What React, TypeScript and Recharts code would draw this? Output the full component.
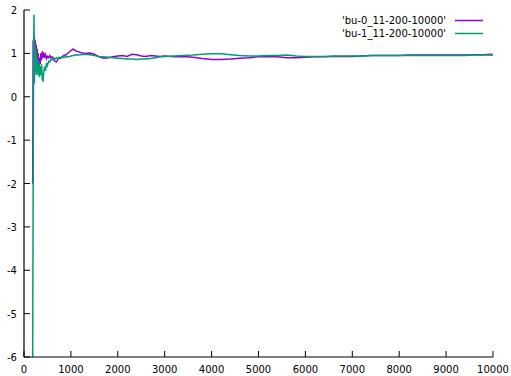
import React from "react";
import { LineChart, Line, XAxis, YAxis } from "recharts";

const xValues = [185, 195, 205, 213, 222, 232, 242, 252, 262, 272, 282, 292, 302, 315, 330, 345, 360, 375, 390, 405, 420, 440, 460, 480, 500, 525, 550, 575, 600, 630, 660, 690, 720, 750, 780, 810, 850, 900, 950, 1000, 1050, 1100, 1150, 1200, 1300, 1400, 1500, 1600, 1700, 1800, 1900, 2000, 2100, 2200, 2300, 2400, 2500, 2600, 2700, 2800, 2900, 3000, 3200, 3400, 3600, 3800, 4000, 4200, 4400, 4600, 4800, 5000, 5200, 5400, 5600, 5800, 6000, 6200, 6400, 6600, 6800, 7000, 7200, 7400, 7600, 7800, 8000, 8200, 8400, 8600, 8800, 9000, 9200, 9400, 9600, 9800, 9950, 10000];

const bu0Values = [-2.0, 1.3, 0.4, 1.0, 1.39, 0.7, 1.3, 0.6, 1.2, 0.65, 1.1, 0.75, 1.0, 0.65, 0.9, 0.75, 1.0, 0.85, 1.05, 0.9, 1.02, 0.9, 0.97, 0.88, 0.93, 0.9, 0.95, 0.9, 0.92, 0.86, 0.82, 0.8, 0.86, 0.9, 0.88, 0.92, 0.95, 0.97, 1.02, 1.06, 1.1, 1.06, 1.04, 1.02, 1.0, 1.01, 0.98, 0.92, 0.89, 0.9, 0.92, 0.94, 0.95, 0.93, 0.98, 0.97, 0.94, 0.93, 0.95, 0.94, 0.93, 0.94, 0.92, 0.93, 0.91, 0.88, 0.86, 0.86, 0.87, 0.89, 0.9, 0.92, 0.93, 0.92, 0.9, 0.9, 0.91, 0.92, 0.92, 0.93, 0.93, 0.93, 0.94, 0.95, 0.95, 0.95, 0.95, 0.96, 0.96, 0.96, 0.96, 0.96, 0.96, 0.96, 0.97, 0.97, 0.98, 0.97];

const bu1Values = [-6.0, -2.2, 1.2, 1.89, 0.3, 1.2, 0.6, 1.1, 0.5, 0.95, 0.55, 0.85, 0.5, 0.8, 0.45, 0.7, 0.5, 0.75, 0.4, 0.35, 0.55, 0.7, 0.6, 0.78, 0.72, 0.82, 0.8, 0.87, 0.85, 0.9, 0.87, 0.9, 0.88, 0.91, 0.89, 0.92, 0.9, 0.93, 0.92, 0.94, 0.95, 0.97, 0.96, 0.97, 0.98, 0.97, 0.95, 0.93, 0.92, 0.91, 0.9, 0.89, 0.88, 0.87, 0.87, 0.86, 0.87, 0.87, 0.88, 0.9, 0.92, 0.93, 0.94, 0.95, 0.96, 0.98, 0.99, 0.99, 0.97, 0.95, 0.94, 0.94, 0.95, 0.95, 0.96, 0.94, 0.93, 0.93, 0.93, 0.94, 0.94, 0.94, 0.94, 0.95, 0.95, 0.95, 0.95, 0.95, 0.95, 0.95, 0.95, 0.95, 0.95, 0.95, 0.96, 0.96, 0.96, 0.96];

const seriesNames = ["'bu-0_11-200-10000'", "'bu-1_11-200-10000'"];
const seriesColors = ["#9400d3", "#009e73"];
const xTicks = [0, 1000, 2000, 3000, 4000, 5000, 6000, 7000, 8000, 9000, 10000];
const yTicks = [-6, -5, -4, -3, -2, -1, 0, 1, 2];

const data = xValues.map((x, i) => ({ x, bu0: bu0Values[i], bu1: bu1Values[i] }));

const FONT = "'DejaVu Sans', sans-serif";
const TL = 6;

const BottomTick = (props: any) => {
  const { x, y, payload } = props;
  return (
    <g>
      <line x1={x} x2={x} y1={y} y2={y - TL} stroke="#000" strokeWidth={1} />
      <text x={x} y={y + 16} textAnchor="middle" fontFamily={FONT} fontSize={10} fill="#000">
        {payload.value}
      </text>
    </g>
  );
};

const TopTick = (props: any) => {
  const { x, y } = props;
  return <line x1={x} x2={x} y1={y} y2={y + TL} stroke="#000" strokeWidth={1} />;
};

const LeftTick = (props: any) => {
  const { x, y, payload } = props;
  return (
    <g>
      <line x1={x} x2={x + TL} y1={y} y2={y} stroke="#000" strokeWidth={1} />
      <text x={x - 7} y={y + 4} textAnchor="end" fontFamily={FONT} fontSize={10} fill="#000">
        {payload.value}
      </text>
    </g>
  );
};

const RightTick = (props: any) => {
  const { x, y } = props;
  return <line x1={x} x2={x - TL} y1={y} y2={y} stroke="#000" strokeWidth={1} />;
};

export default function App() {
  return (
    <div style={{ position: "absolute", left: 0, top: 0, width: 511, height: 376, background: "#fff" }}>
      <LineChart width={511} height={376} data={data} margin={{ top: 10, right: 18, bottom: 0, left: 0 }}>
        <XAxis
          xAxisId="b"
          dataKey="x"
          type="number"
          domain={[0, 10000]}
          ticks={xTicks}
          height={19}
          tickSize={0}
          tickMargin={0}
          tickLine={false}
          axisLine={{ stroke: "#000", strokeWidth: 1.2 }}
          tick={<BottomTick />}
          interval={0}
        />
        <XAxis
          xAxisId="t"
          orientation="top"
          dataKey="x"
          type="number"
          domain={[0, 10000]}
          ticks={xTicks}
          height={0}
          tickSize={0}
          tickMargin={0}
          tickLine={false}
          axisLine={{ stroke: "#000", strokeWidth: 1.2 }}
          tick={<TopTick />}
          interval={0}
        />
        <YAxis
          yAxisId="l"
          type="number"
          domain={[-6, 2]}
          ticks={yTicks}
          width={24}
          tickSize={0}
          tickMargin={0}
          tickLine={false}
          axisLine={{ stroke: "#000", strokeWidth: 1.2 }}
          tick={<LeftTick />}
          interval={0}
          allowDataOverflow
        />
        <YAxis
          yAxisId="r"
          orientation="right"
          type="number"
          domain={[-6, 2]}
          ticks={yTicks}
          width={0}
          tickSize={0}
          tickMargin={0}
          tickLine={false}
          axisLine={{ stroke: "#000", strokeWidth: 1.2 }}
          tick={<RightTick />}
          interval={0}
          allowDataOverflow
        />
        <Line xAxisId="b" yAxisId="l" type="linear" dataKey="bu0" stroke={seriesColors[0]} strokeWidth={1.5} dot={false} isAnimationActive={false} />
        <Line xAxisId="b" yAxisId="l" type="linear" dataKey="bu1" stroke={seriesColors[1]} strokeWidth={1.5} dot={false} isAnimationActive={false} />
      </LineChart>
      <svg width={511} height={376} style={{ position: "absolute", left: 0, top: 0, pointerEvents: "none" }}>
        {seriesNames.map((name, i) => (
          <g key={name}>
            <text x={446} y={24 + i * 13} textAnchor="end" fontFamily={FONT} fontSize={10} fill="#000">
              {name}
            </text>
            <line x1={455} x2={483} y1={20.5 + i * 13} y2={20.5 + i * 13} stroke={seriesColors[i]} strokeWidth={1.5} />
          </g>
        ))}
      </svg>
    </div>
  );
}
